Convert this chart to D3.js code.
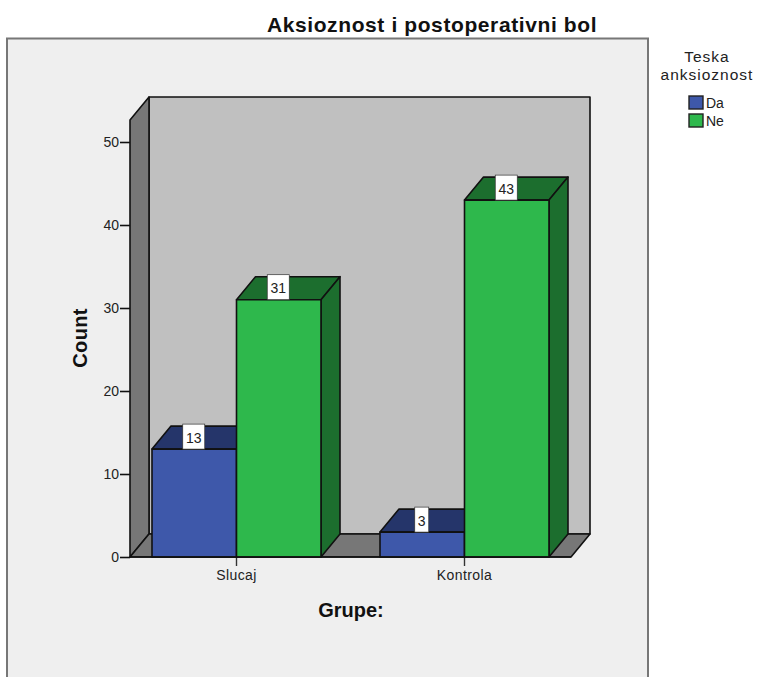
<!DOCTYPE html>
<html><head><meta charset="utf-8">
<script src="https://cdn.jsdelivr.net/npm/d3@7"></script>
<style>html,body{margin:0;padding:0;background:#fff}svg{display:block}text{font-family:"Liberation Sans",Arial,sans-serif}</style>
</head><body><div id="c"></div>
<script>
const categories = ["Slucaj", "Kontrola"];
const seriesNames = ["Da", "Ne"];
const valuesDa = [13, 3];
const valuesNe = [31, 43];
const yTicks = [0, 10, 20, 30, 40, 50];
const frontColors = ["#3e58aa", "#2eb84c"];
const topColors = ["#25356a", "#1c6e2e"];
const W = 760, H = 677;
const depth = {x: 19, y: -23};
const svg = d3.select("#c").append("svg").attr("width", W).attr("height", H);
const x = d3.scaleBand().domain(categories).range([122, 578]);
const xs = d3.scaleBand().domain(seriesNames).range([30, 199]);
const y = d3.scaleLinear().domain([0, 50]).range([557, 142]);
const yMax = y.invert(120);
const L = 130, R = 571, B = y(0), T = y(yMax);
const ink = "#111";
const poly = (pts, fill, sw = 1.6, stroke = ink) => svg.append("path")
  .attr("d", "M" + pts.map(p => p.join(",")).join("L") + "Z")
  .attr("fill", fill).attr("stroke", stroke).attr("stroke-width", sw).attr("stroke-linejoin", "round");

svg.append("rect").attr("x", 7).attr("y", 38.5).attr("width", 641).attr("height", 660)
  .attr("fill", "#efefef").attr("stroke", "#777").attr("stroke-width", 2);

svg.append("text").attr("x", 432).attr("y", 32).attr("text-anchor", "middle")
  .attr("font-size", 21).attr("letter-spacing", 0.6).attr("font-weight", "bold").attr("fill", "#111")
  .text("Aksioznost i postoperativni bol");

// Walls and floor
poly([[L+depth.x,T+depth.y],[R+depth.x,T+depth.y],[R+depth.x,B+depth.y],[L+depth.x,B+depth.y]], "#c0c0c0");
poly([[L,T],[L+depth.x,T+depth.y],[L+depth.x,B+depth.y],[L,B]], "#777777");
poly([[L,B],[L+depth.x,B+depth.y],[R+depth.x,B+depth.y],[R,B]], "#777777");

// Axes
const yAxis = d3.axisLeft(y).tickValues(yTicks).tickSize(10).tickPadding(1);
const gy = svg.append("g").attr("transform", `translate(${L},0)`).call(yAxis);
gy.select(".domain").remove();
gy.selectAll("line").attr("stroke", ink).attr("stroke-width", 1.6);
gy.selectAll("text").attr("font-size", 14).attr("fill", "#222").style("font-family", '"Liberation Sans",Arial,sans-serif');

const xAxis = d3.axisBottom(d3.scalePoint().domain(categories).range([x(categories[0]) + x.bandwidth()/2, x(categories[1]) + x.bandwidth()/2]))
  .tickSize(9).tickPadding(4);
const gx = svg.append("g").attr("transform", `translate(0,${B})`).call(xAxis);
gx.select(".domain").remove();
gx.selectAll("line").attr("stroke", "#333").attr("stroke-width", 1.4);
gx.selectAll("text").attr("font-size", 14).attr("letter-spacing", 0.4).attr("fill", "#222").style("font-family", '"Liberation Sans",Arial,sans-serif');

// Bars
const rows = [];
categories.forEach((c, i) => {
  rows.push({c, s: 0, v: valuesDa[i]});
  rows.push({c, s: 1, v: valuesNe[i]});
});
const bw = xs.bandwidth();
rows.forEach(d => {
  const x0 = x(d.c) + xs(seriesNames[d.s]), x1 = x0 + bw, yt = y(d.v);
  poly([[x0,yt],[x0+depth.x,yt+depth.y],[x1+depth.x,yt+depth.y],[x1,yt]], topColors[d.s]);
  poly([[x1,yt],[x1+depth.x,yt+depth.y],[x1+depth.x,B+depth.y],[x1,B]], topColors[d.s]);
  poly([[x0,yt],[x1,yt],[x1,B],[x0,B]], frontColors[d.s]);
});
// Value labels
rows.forEach(d => {
  const x0 = x(d.c) + xs(seriesNames[d.s]), cx = x0 + bw/2 - 0.5, yt = y(d.v);
  const w = String(d.v).length > 1 ? 22 : 14;
  svg.append("rect").attr("x", cx - w/2).attr("y", yt + depth.y - 2).attr("width", w).attr("height", 25)
    .attr("fill", "#fff").attr("stroke", "#333").attr("stroke-width", 0.7);
  svg.append("text").attr("x", cx).attr("y", yt - 6.5).attr("text-anchor", "middle")
    .attr("font-size", 14).attr("fill", "#222").text(d.v);
});
// Baseline
svg.append("line").attr("x1", L).attr("x2", R).attr("y1", B).attr("y2", B).attr("stroke", ink).attr("stroke-width", 1.6);

// Axis titles
svg.append("text").attr("x", 351).attr("y", 617).attr("text-anchor", "middle")
  .attr("font-size", 20).attr("font-weight", "bold").attr("fill", "#111").text("Grupe:");
svg.append("text").attr("transform", "translate(87,338) rotate(-90)").attr("text-anchor", "middle")
  .attr("font-size", 20).attr("letter-spacing", 0.3).attr("font-weight", "bold").attr("fill", "#111").text("Count");

// Legend
const legendTitle = ["Teska", "anksioznost"];
legendTitle.forEach((t, i) => svg.append("text").attr("x", 707).attr("y", 62 + i*18)
  .attr("text-anchor", "middle").attr("font-size", 15.5).attr("letter-spacing", 1).attr("fill", "#222").text(t));
seriesNames.forEach((s, i) => {
  const ly = 96 + i*18;
  svg.append("rect").attr("x", 689).attr("y", ly).attr("width", 14).attr("height", 13)
    .attr("fill", frontColors[i]).attr("stroke", "#222").attr("stroke-width", 1.4);
  svg.append("text").attr("x", 706).attr("y", ly + 12).attr("font-size", 14).attr("fill", "#222").text(s);
});
</script></body></html>
